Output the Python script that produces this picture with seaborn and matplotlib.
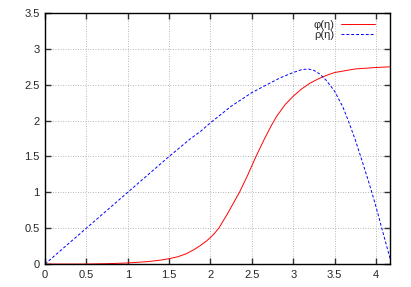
import numpy as np
import pandas as pd
import matplotlib
matplotlib.use("Agg")
import matplotlib.pyplot as plt
import seaborn as sns

# values
eta_phi = [0.0, 0.5, 0.75, 1.0, 1.25, 1.4, 1.5, 1.6, 1.7, 1.8, 1.88, 1.95, 2.0, 2.05,
           2.1, 2.2, 2.35, 2.45, 2.55, 2.65, 2.74, 2.8, 2.9, 3.0, 3.1, 3.2, 3.3, 3.4,
           3.5, 3.75, 4.0, 4.17]
phi = [0.0, 0.0, 0.005, 0.015, 0.035, 0.055, 0.075, 0.1, 0.14, 0.2, 0.26, 0.32, 0.37, 0.43,
       0.5, 0.69, 1.0, 1.24, 1.5, 1.74, 1.94, 2.06, 2.22, 2.34, 2.44, 2.52, 2.58, 2.63,
       2.67, 2.72, 2.74, 2.75]

eta_rho = [0.0, 0.5, 1.0, 1.5, 1.75, 1.88, 2.0, 2.25, 2.5, 2.68, 2.85, 3.0, 3.1, 3.18,
           3.25, 3.32, 3.4, 3.5, 3.6, 3.665, 3.75, 3.815, 3.9, 3.95, 4.0, 4.07, 4.12, 4.17]
rho = [0.0, 0.5, 1.0, 1.5, 1.74, 1.85, 1.97, 2.2, 2.39, 2.5, 2.6, 2.67, 2.71, 2.72,
       2.7, 2.65, 2.56, 2.41, 2.19, 2.0, 1.73, 1.5, 1.19, 1.0, 0.8, 0.5, 0.29, 0.08]

x_ticks = [0, 0.5, 1, 1.5, 2, 2.5, 3, 3.5, 4]
y_ticks = [0, 0.5, 1, 1.5, 2, 2.5, 3, 3.5]

sns.set_style("ticks")
plt.rcParams['font.family'] = ['Liberation Sans', 'DejaVu Sans']

fig = plt.figure(figsize=(4.11, 2.87), dpi=100)
ax = fig.add_axes([0.1095, 0.080, 0.8395, 0.8747])

df_phi = pd.DataFrame({"eta": eta_phi, "val": phi})
df_rho = pd.DataFrame({"eta": eta_rho, "val": rho})
sns.lineplot(data=df_phi, x="eta", y="val", ax=ax, color="#ff0000", lw=0.7,
             label="\u03c6(\u03b7)", sort=False)
sns.lineplot(data=df_rho, x="eta", y="val", ax=ax, color="#0000ff", lw=0.7,
             linestyle=(0, (3, 2)), label="\u03c1(\u03b7)", sort=False)

ax.set_xlim(0, 4.17)
ax.set_ylim(0, 3.5)
ax.set_xticks(x_ticks)
ax.set_xticklabels([f"{t:g}" for t in x_ticks])
ax.set_yticks(y_ticks)
ax.set_yticklabels([f"{t:g}" for t in y_ticks])
ax.set_xlabel("")
ax.set_ylabel("")
ax.grid(True, color="#a0a0a0", linestyle=(0, (1, 2)), lw=0.6)
ax.tick_params(direction="in", length=4, width=1, labelsize=8, top=True, right=True,
               color="#303030", pad=4)
for s in ax.spines.values():
    s.set_linewidth(1)
    s.set_color("black")

leg = ax.legend(loc="upper right", frameon=False, fontsize=8, markerfirst=False,
                handlelength=3.0, handletextpad=0.6, labelspacing=0.0,
                borderaxespad=0.2, bbox_to_anchor=(0.975, 1.0))
for t in leg.get_texts():
    t.set_ha("right")

fig.savefig("out.png", dpi=100)
